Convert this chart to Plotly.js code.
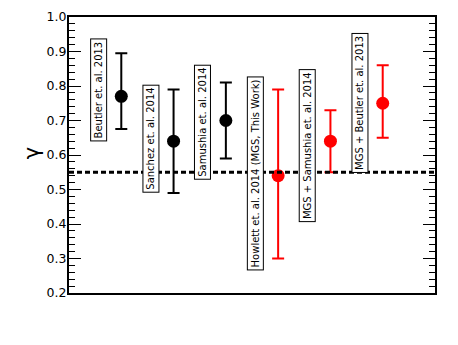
<!DOCTYPE html>
<html>
<head>
<meta charset="utf-8">
<script src="https://cdn.plot.ly/plotly-3.0.1.min.js"></script>
<style>html,body{margin:0;padding:0;background:#fff;}#chart{width:458px;height:345px;}</style>
</head>
<body>
<div id="chart"></div>
<script>
// ---- data ----
const labels = [
  "Beutler et. al. 2013",
  "Sanchez et. al. 2014",
  "Samushia et. al. 2014",
  "Howlett et. al. 2014 (MGS, This Work)",
  "MGS + Samushia et. al. 2014",
  "MGS + Beutler et. al. 2013"
];
const positions = [1, 2, 3, 4, 5, 6];
const gammaValues = [0.77, 0.64, 0.70, 0.54, 0.64, 0.75];
const errUpper = [0.125, 0.15, 0.11, 0.25, 0.09, 0.11];
const errLower = [0.095, 0.15, 0.11, 0.24, 0.09, 0.10];
const isNewResult = [false, false, false, true, true, true];
const grPrediction = 0.55;
const yTickVals = [0.2, 0.3, 0.4, 0.5, 0.6, 0.7, 0.8, 0.9, 1.0];
const yTickText = ["0.2", "0.3", "0.4", "0.5", "0.6", "0.7", "0.8", "0.9", "1.0"];
const yTitle = "γ";

// ---- layout helpers (positions/styles) ----
const labelCenters = [0.788, 0.646, 0.696, 0.547, 0.627, 0.75];
const labelDx = -0.44;

function subset(flag) {
  const idx = positions.map((_, i) => i).filter(i => isNewResult[i] === flag);
  return {
    x: idx.map(i => positions[i]),
    y: idx.map(i => gammaValues[i]),
    up: idx.map(i => errUpper[i]),
    dn: idx.map(i => errLower[i])
  };
}

function makeTrace(flag, color) {
  const s = subset(flag);
  return {
    type: "scatter",
    mode: "markers",
    x: s.x,
    y: s.y,
    marker: {color: color, size: 13, line: {width: 0}},
    error_y: {type: "data", symmetric: false, array: s.up, arrayminus: s.dn,
              color: color, thickness: 2, width: 6},
    hoverinfo: "skip",
    showlegend: false
  };
}

const traces = [makeTrace(false, "#000000"), makeTrace(true, "#ff0000")];

const annotations = labels.map((t, i) => ({
  x: positions[i] + labelDx,
  y: labelCenters[i],
  xref: "x", yref: "y",
  text: t,
  showarrow: false,
  textangle: -90,
  xanchor: "center", yanchor: "middle",
  font: {family: "DejaVu Sans", size: 10, color: "#000"},
  bgcolor: "#ffffff",
  bordercolor: "#000000",
  borderwidth: 1,
  borderpad: 2
}));

annotations.push({
  xref: "paper", yref: "y",
  x: 0, y: 0.605, xshift: -37,
  text: yTitle,
  showarrow: false,
  textangle: -90,
  xanchor: "center", yanchor: "middle",
  font: {family: "DejaVu Sans", size: 21, color: "#000"}
});

const layout = {
  width: 458, height: 345,
  margin: {l: 68.5, r: 23, t: 16.7, b: 52.3, pad: 0},
  paper_bgcolor: "#fff", plot_bgcolor: "#fff",
  font: {family: "DejaVu Sans", color: "#000"},
  showlegend: false,
  xaxis: {
    range: [0, 7],
    showgrid: false, zeroline: false,
    showticklabels: false, ticks: "",
    showline: true, linecolor: "#000", linewidth: 2, mirror: true
  },
  yaxis: {
    range: [0.2, 1.0],
    tickmode: "array", tickvals: yTickVals, ticktext: yTickText,
    ticks: "inside", ticklen: 12, tickwidth: 1, tickcolor: "#000",
    minor: {ticks: "inside", ticklen: 6, tickwidth: 1, tickcolor: "#000", dtick: 0.02, tick0: 0.2, showgrid: false},
    showgrid: false, zeroline: false,
    showline: true, linecolor: "#000", linewidth: 2, mirror: "ticks",
    tickfont: {family: "DejaVu Sans", size: 12.5, color: "#000"},
    ticklabelstandoff: -2
  },
  shapes: [{
    type: "line", xref: "paper", yref: "y",
    x0: 0, x1: 1, y0: grPrediction, y1: grPrediction,
    line: {color: "#000", width: 3, dash: "5px,3px"},
    layer: "above"
  }],
  annotations: annotations
};

Plotly.newPlot("chart", traces, layout, {staticPlot: true, displayModeBar: false});
</script>
</body>
</html>
